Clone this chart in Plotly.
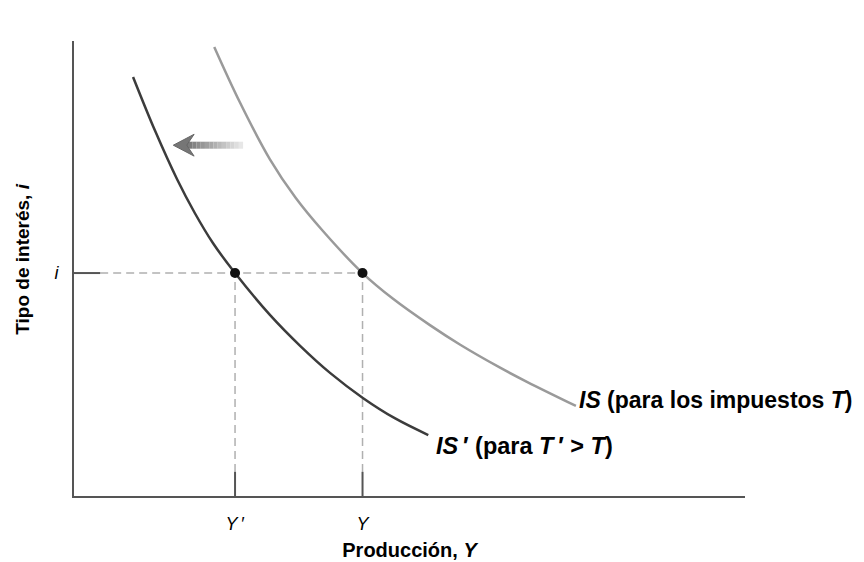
import plotly.graph_objects as go

# ---- data (axis units 0-100) ----
is_prime_x = [8.8, 12.1, 15.4, 18.0, 20.7, 24.0, 29.2, 33.7, 38.2, 43.1, 47.8, 52.8]
is_prime_y = [92.1, 80.2, 69.5, 62.2, 55.6, 49.0, 39.8, 33.0, 27.0, 21.5, 17.1, 13.4]

is_x = [20.9, 24.7, 29.2, 33.0, 37.0, 43.0, 47.5, 53.1, 57.5, 63.5, 67.5, 74.8]
is_y = [98.7, 86.6, 74.0, 65.6, 58.4, 49.0, 43.4, 37.5, 33.3, 28.2, 25.1, 19.8]

i_level = 49.0
y_prime = 24.0
y_orig = 43.0

x_tick_vals = [y_prime, y_orig]
x_tick_text = ["<i>Y</i>\u2009\u2032", "<i>Y</i>"]
y_tick_vals = [i_level]
y_tick_text = ["<i>i</i>"]

arrow_from = (25.2, 77.1)
arrow_to = (14.8, 77.1)

label_is = "<b><i>IS</i> (para los impuestos <i>T</i>)</b>"
label_isp = "<b><i>IS</i>\u2009\u2032 (para <i>T</i>\u2009\u2032 &gt; <i>T</i>)</b>"
x_title = "<b>Producción, <i>Y</i></b>"
y_title = "<b>Tipo de interés, <i>i</i></b>"

FONT = "Liberation Sans, Arial, sans-serif"
AXC = "#555555"
DASHC = "#b0b0b0"

fig = go.Figure()

# dashed guide lines
fig.add_trace(go.Scatter(x=[3.9, y_orig], y=[i_level, i_level], mode="lines",
                         line=dict(color=DASHC, width=1.5, dash="8px,5px"),
                         hoverinfo="skip", showlegend=False))
for xv in [y_prime, y_orig]:
    fig.add_trace(go.Scatter(x=[xv, xv], y=[5.3, i_level], mode="lines",
                             line=dict(color=DASHC, width=1.5, dash="8px,5px"),
                             hoverinfo="skip", showlegend=False))
    fig.add_trace(go.Scatter(x=[xv, xv], y=[0, 5.3], mode="lines",
                             line=dict(color=AXC, width=2),
                             hoverinfo="skip", showlegend=False))
fig.add_trace(go.Scatter(x=[0, 3.9], y=[i_level, i_level], mode="lines",
                         line=dict(color=AXC, width=2),
                         hoverinfo="skip", showlegend=False))

# curves
fig.add_trace(go.Scatter(x=is_x, y=is_y, mode="lines",
                         line=dict(color="#9a9a9a", width=2.5, shape="spline", smoothing=1.0),
                         showlegend=False))
fig.add_trace(go.Scatter(x=is_prime_x, y=is_prime_y, mode="lines",
                         line=dict(color="#3c3c3c", width=2.5, shape="spline", smoothing=1.0),
                         showlegend=False))

# equilibrium points
fig.add_trace(go.Scatter(x=[y_prime, y_orig], y=[i_level, i_level], mode="markers",
                         marker=dict(color="#111111", size=10),
                         showlegend=False))

# gradient arrow
shapes = []
n = 14
x0, y0 = arrow_from
x1, y1 = arrow_to
head_len = 2.6
shaft_end = x1 + head_len * 0.6
for k in range(n):
    t0 = k / n
    t1 = (k + 1) / n
    xa = x0 + (shaft_end - x0) * t0
    xb = x0 + (shaft_end - x0) * t1
    c = int(240 - (240 - 115) * t1)
    shapes.append(dict(type="line", xref="x", yref="y", x0=xa, x1=xb, y0=y0, y1=y0,
                       line=dict(color=f"rgb({c},{c},{c})", width=7)))
hx = x1 + head_len
shapes.append(dict(type="path", xref="x", yref="y",
                   path=f"M {x1} {y1} L {hx + 0.5} {y1 + 2.4} L {hx - 0.6} {y1} L {hx + 0.5} {y1 - 2.4} Z",
                   fillcolor="#767676", line=dict(color="#666666", width=1)))

annotations = [
    dict(x=is_x[-1] + 0.2, y=is_y[-1] + 1.3, xref="x", yref="y", text=label_is, showarrow=False,
         xanchor="left", yanchor="middle", font=dict(family=FONT, size=23, color="#000")),
    dict(x=is_prime_x[-1] + 0.9, y=is_prime_y[-1] - 2.4, xref="x", yref="y", text=label_isp, showarrow=False,
         xanchor="left", yanchor="middle", font=dict(family=FONT, size=23.5, color="#000")),
    dict(x=-0.077, y=0.52, xref="paper", yref="paper", text=y_title, showarrow=False,
         textangle=-90, xanchor="center", yanchor="middle",
         font=dict(family=FONT, size=19, color="#000")),
]

fig.update_layout(
    width=864, height=562,
    margin=dict(l=66, r=127, t=33, b=74),
    paper_bgcolor="white", plot_bgcolor="white",
    shapes=shapes, annotations=annotations,
    font=dict(family=FONT, color="#000"),
    xaxis=dict(range=[0, 100], showgrid=False, zeroline=False, showline=True,
               linecolor=AXC, linewidth=2, tickmode="array", tickvals=x_tick_vals,
               ticktext=x_tick_text, ticks="outside", ticklen=10, tickcolor="rgba(0,0,0,0)",
               tickfont=dict(family=FONT, size=18),
               title=dict(text=x_title, font=dict(family=FONT, size=20), standoff=10)),
    yaxis=dict(range=[0, 100], showgrid=False, zeroline=False, showline=True,
               linecolor=AXC, linewidth=2, tickmode="array", tickvals=y_tick_vals,
               ticktext=y_tick_text, ticks="outside", ticklen=10, tickcolor="rgba(0,0,0,0)",
               tickfont=dict(family=FONT, size=18)),
)

fig.write_html("out.html")
